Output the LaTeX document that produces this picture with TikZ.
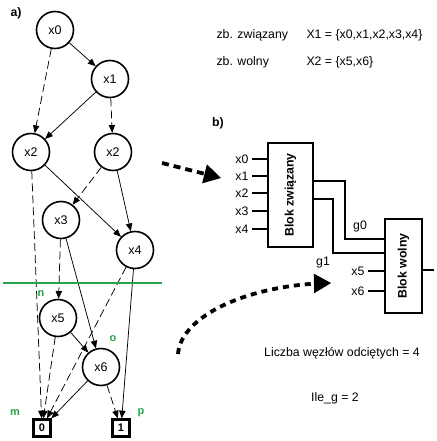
\documentclass[tikz,border=0pt]{standalone}
\usepackage{fontspec}
\setmainfont{Liberation Sans}
\usepackage{xcolor}
\usepackage{tikz}
\usetikzlibrary{arrows}

\definecolor{cutgreen}{RGB}{35,165,75}

\begin{document}
\begin{tikzpicture}[x=1pt,y=-1pt,
    vertex/.style={circle,draw,line width=1.6pt,minimum size=37pt,inner sep=0pt,font=\fontsize{12.5}{14}\selectfont},
    leaf/.style={draw,line width=2.4pt,minimum size=17pt,inner sep=0pt,font=\bfseries\fontsize{11}{13}\selectfont},
    hi/.style={-triangle 45,line width=0.75pt},
    lo/.style={-triangle 45,line width=0.75pt,dash pattern=on 8pt off 4pt},
    cutlbl/.style={text=cutgreen,font=\bfseries\fontsize{11}{12}\selectfont},
    txt/.style={font=\fontsize{12.3}{14}\selectfont},
    block/.style={draw,line width=2.4pt,inner sep=0pt},
    wire/.style={line width=2.2pt},
    bigdash/.style={-triangle 60,line width=3.8pt,dash pattern=on 7pt off 5pt}]
    \useasboundingbox (0,0) rectangle (436,441);

    % a) graf
    \node[txt,font=\bfseries\fontsize{12.3}{14}\selectfont] (la) at (16,13) {a)};
    \node[vertex] (x0) at (55,30) {x0};
    \node[vertex] (x1) at (110,79) {x1};
    \node[vertex] (x2a) at (31,152) {x2};
    \node[vertex] (x2b) at (113,152) {x2};
    \node[vertex] (x3) at (61,220) {x3};
    \node[vertex] (x4) at (135,250) {x4};
    \node[vertex] (x5) at (58,318) {x5};
    \node[vertex] (x6) at (101,367) {x6};
    \node[leaf] (b0) at (42,428) {0};
    \node[leaf] (b1) at (121,428) {1};

    \draw [hi] (x0) -- (x1);
    \draw [lo] (x0) -- (x2a);
    \draw [hi] (x1) -- (x2a);
    \draw [lo] (x1) -- (x2b);
    \draw [lo] (x2a) -- (b0);
    \draw [hi] (x2a) -- (x4);
    \draw [lo] (x2b) -- (x3);
    \draw [hi] (x2b) -- (x4);
    \draw [lo] (x3) -- (x5);
    \draw [hi] (x3) -- (x6);
    \draw [lo] (x4) -- (b0);
    \draw [hi] (x4) -- (b1);
    \draw [hi] (x5) -- (x6);
    \draw [lo] (x5) -- (b0);
    \draw [hi] (x6) -- (b0);
    \draw [lo] (x6) -- (b1);

    % linia odciecia
    \draw [cutgreen,line width=2.2pt] (3,283) -- (162,283);
    \node[cutlbl] (ln) at (41,294) {n};
    \node[cutlbl] (lo) at (113,339) {o};
    \node[cutlbl] (lm) at (15,413) {m};
    \node[cutlbl] (lp) at (141,413) {p};

    % zbiory
    \node[txt,anchor=base west] (zz) at (213,39) {zb. związany};
    \node[txt,anchor=base west] (X1) at (303,39) {X1 = \{x0,x1,x2,x3,x4\}};
    \node[txt,anchor=base west] (zw) at (213,66) {zb. wolny};
    \node[txt,anchor=base west] (X2) at (303,66) {X2 = \{x5,x6\}};

    % b) bloki
    \node[txt,font=\bfseries\fontsize{12.3}{14}\selectfont] (lb) at (218,123) {b)};
    \node[block,minimum width=45pt,minimum height=104pt] (bz) at (290.5,195) {};
    \node[rotate=90,font=\bfseries\fontsize{12.3}{14}\selectfont] at (bz) {Blok związany};
    \node[block,minimum width=37pt,minimum height=94pt] (bw) at (403.5,266) {};
    \node[rotate=90,font=\bfseries\fontsize{12.3}{14}\selectfont] at (bw) {Blok wolny};

    \node[txt,anchor=east] (i0) at (252,159) {x0};
    \node[txt,anchor=east] (i1) at (252,176) {x1};
    \node[txt,anchor=east] (i2) at (252,193) {x2};
    \node[txt,anchor=east] (i3) at (252,211) {x3};
    \node[txt,anchor=east] (i4) at (252,229) {x4};
    \node[txt,anchor=east] (i5) at (368,271) {x5};
    \node[txt,anchor=east] (i6) at (368,291) {x6};
    \foreach \i in {i0,i1,i2,i3,i4} \draw [wire] (\i.east) -- (\i -| bz.west);
    \foreach \i in {i5,i6} \draw [wire] (\i.east) -- (\i -| bw.west);

    \draw [wire] (bz.east |- 0,181) -| (345,239) -- (bw.west |- 0,239);
    \draw [wire] (bz.east |- 0,199) -| (333,253) -- (bw.west |- 0,253);
    \draw [wire] (bw.east |- 0,270) -- ++(11,0);
    \node[txt] (g0) at (360,226) {g0};
    \node[txt] (g1) at (323,263) {g1};

    % strzalki
    \coordinate (s1) at (162,163);
    \coordinate (e1) at (221,178);
    \coordinate (s2) at (178,354);
    \coordinate (e2) at (331,283);
    \draw [bigdash] (s1) -- (e1);
    \draw [bigdash,dash pattern=on 6pt off 5pt] (s2) .. controls (181,315) and (250,285) .. (e2);

    \node[txt] (lc) at (342,353) {Liczba węzłów odciętych = 4};
    \node[txt] (lg) at (335,398) {Ile\_g = 2};
\end{tikzpicture}
\end{document}
